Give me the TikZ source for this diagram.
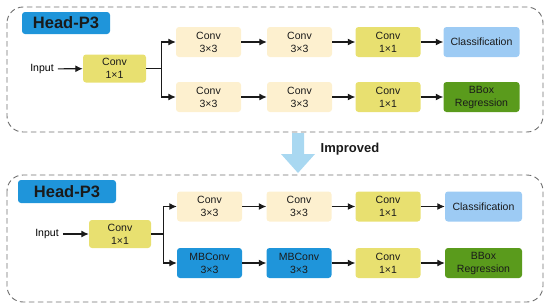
\documentclass[tikz,border=0pt]{standalone}
\usepackage{fontspec}
\setmainfont{Liberation Sans}
\usetikzlibrary{arrows.meta,positioning,calc}
\definecolor{cream}   {HTML}{FDF0CF}
\definecolor{mustard} {HTML}{E8E070}
\definecolor{sky}     {HTML}{9DCBF4}
\definecolor{leaf}    {HTML}{5A9B1C}
\definecolor{azure}   {HTML}{1F95DA}
\definecolor{pale}    {HTML}{A9D8F1}
\definecolor{frame}   {HTML}{707070}
\definecolor{ink}     {HTML}{1A1A1A}

\begin{document}
\begin{tikzpicture}[x=1pt,y=-1pt,
    panel/.style={draw=frame, line width=0.9pt, dash pattern=on 5.5pt off 3.5pt, rounded corners=16pt},
    tag/.style={fill=azure, rounded corners=3pt, minimum height=22pt, inner sep=0pt,
                font=\fontsize{16.5}{18}\selectfont\bfseries, text=ink},
    blk/.style={rounded corners=3pt, minimum width=65pt, minimum height=30pt, inner sep=1pt,
                align=center, font=\fontsize{10.5}{13}\selectfont, text=ink},
    cthree/.style={blk, fill=cream},
    cone/.style={blk, fill=mustard},
    mb/.style={blk, fill=azure},
    cls/.style={blk, fill=sky, minimum width=76pt},
    reg/.style={blk, fill=leaf, minimum width=76pt},
    link/.style={-{Latex[length=7.5pt,width=7pt]}, line width=1.2pt, color=ink}]
  \useasboundingbox (0,0) rectangle (550,308);

  % top head
  \draw[panel] (7,7) rectangle (543,132);
  \node[tag, minimum width=88pt] (tagA) at (66,23) {Head-P3};
  \node[font=\fontsize{10.5}{13}\selectfont, inner sep=4pt] (inA) at (42,69) {Input};
  \node[cone, minimum width=63pt, minimum height=28pt] (a0) at (114.5,68.5) {Conv\\1×1};
  \node[cthree] (a1) at (208.5,42) {Conv\\3×3};
  \node[cthree] (a2) at (299.5,42) {Conv\\3×3};
  \node[cone]   (a3) at (388,42)   {Conv\\1×1};
  \node[cls]    (a4) at (481.5,42) {Classification};
  \node[cthree] (b1) at (208.5,97) {Conv\\3×3};
  \node[cthree] (b2) at (299.5,97) {Conv\\3×3};
  \node[cone]   (b3) at (388,97)   {Conv\\1×1};
  \node[reg]    (b4) at (481.5,97) {BBox\\Regression};
  \coordinate (sA) at ($(a0.east)+(15,0)$);
  \draw[link] (inA) -- (a0);
  \draw[line width=1.2pt, color=ink] (a0.east) -- (sA);
  \draw[link] (sA) |- (a1.west);
  \draw[link] (sA) |- (b1.west);
  \foreach \u/\v in {a1/a2,a2/a3,a3/a4,b1/b2,b2/b3,b3/b4}
    \draw[link] (\u) -- (\v);

  % improvement arrow
  \fill[pale] (292,133) -- (304,133) -- (304,154) -- (315,154) -- (298,173)
              -- (281,154) -- (292,154) -- cycle;
  \node[font=\fontsize{13}{15}\selectfont\bfseries, text=ink] (imp) at (350,149) {Improved};

  % bottom head
  \draw[panel] (7,175) rectangle (543,302);
  \node[tag, minimum width=98pt, minimum height=23pt] (tagB) at (67,191.5) {Head-P3};
  \node[font=\fontsize{10.5}{13}\selectfont, inner sep=4pt] (inB) at (47,234) {Input};
  \node[cone, minimum width=62pt, minimum height=28pt] (c0) at (120,234) {Conv\\1×1};
  \node[cthree] (c1) at (209.5,206.5) {Conv\\3×3};
  \node[cthree] (c2) at (299,206.5)   {Conv\\3×3};
  \node[cone]   (c3) at (388,206.5)   {Conv\\1×1};
  \node[cls, minimum width=77pt] (c4) at (483.5,206.5) {Classification};
  \node[mb]     (d1) at (209.5,263)   {MBConv\\3×3};
  \node[mb]     (d2) at (299,263)     {MBConv\\3×3};
  \node[cone]   (d3) at (388,263)     {Conv\\1×1};
  \node[reg, minimum width=77pt] (d4) at (483.5,263) {BBox\\Regression};
  \coordinate (sB) at ($(c0.east)+(12,0)$);
  \draw[link] (inB) -- (c0);
  \draw[line width=1.2pt, color=ink] (c0.east) -- (sB);
  \draw[link] (sB) |- (c1.west);
  \draw[link] (sB) |- (d1.west);
  \foreach \u/\v in {c1/c2,c2/c3,c3/c4,d1/d2,d2/d3,d3/d4}
    \draw[link] (\u) -- (\v);
\end{tikzpicture}
\end{document}
